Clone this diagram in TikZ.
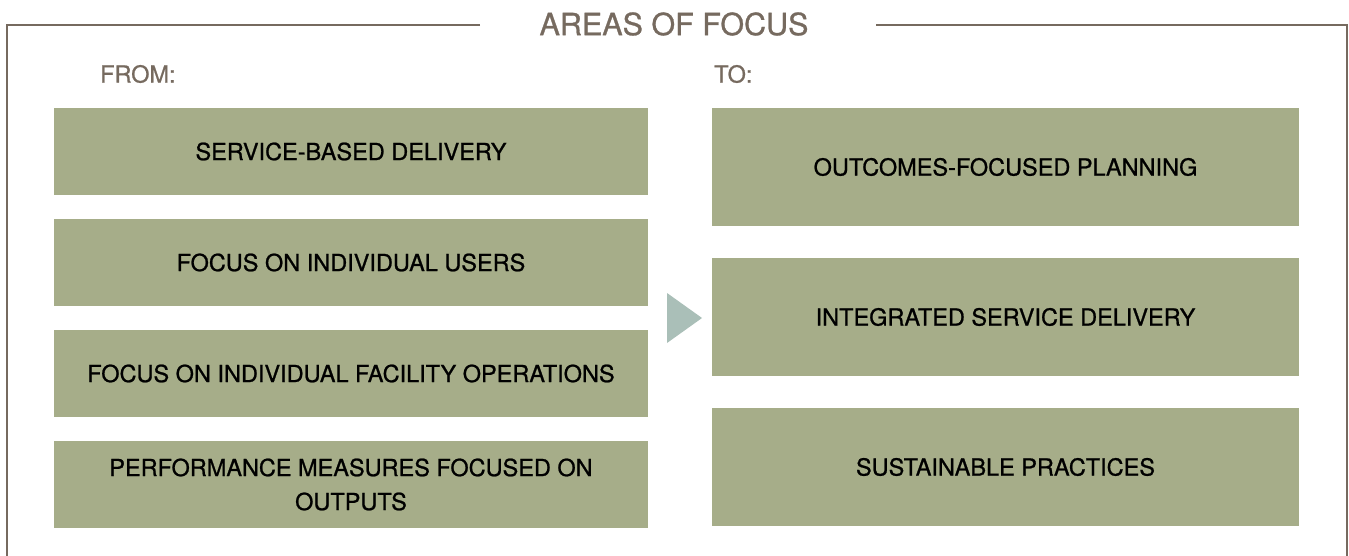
\documentclass[tikz,border=0pt]{standalone}
\usepackage{fontspec}
\setmainfont{TeX Gyre Heros}
\newfontfamily\medfont[FakeBold=0.9]{TeX Gyre Heros}
\definecolor{framebrown}{HTML}{766A5F}
\definecolor{boxgreen}{HTML}{A6AD89}
\definecolor{arrowteal}{HTML}{AABFB8}
\tikzset{
  focusbox/.style={fill=boxgreen,inner sep=0pt,align=center,
    font=\medfont\fontsize{23.5}{34}\selectfont},
  frombox/.style={focusbox,minimum width=594pt,minimum height=87pt},
  tobox/.style={focusbox,minimum width=587pt,minimum height=118pt},
  heading/.style={text=framebrown,inner sep=0pt,font=\medfont\fontsize{23.5}{28}\selectfont}
}
\begin{document}
\begin{tikzpicture}[x=1pt,y=-1pt]
        \useasboundingbox (0,0) rectangle (1349,556);

        \node[text=framebrown,inner sep=0pt,font=\medfont\fontsize{30.5}{34}\selectfont] (title) at (674,24) {AREAS OF FOCUS};
        \draw[framebrown,line width=2.2pt] (480,25) -- (7,25) -- (7,556);
        \draw[framebrown,line width=2.2pt] (876,25) -- (1347,25) -- (1347,556);

        \node[heading,anchor=west] (fromlabel) at (100,74) {FROM:};
        \node[heading,anchor=west] (tolabel) at (714,74) {TO:};

        \node[frombox] (from1) at (351,151.5) {SERVICE-BASED DELIVERY};
        \node[frombox] (from2) at (351,262.5) {FOCUS ON INDIVIDUAL USERS};
        \node[frombox] (from3) at (351,373.5) {FOCUS ON INDIVIDUAL FACILITY OPERATIONS};
        \node[frombox] (from4) at (351,484.5) {PERFORMANCE MEASURES FOCUSED ON\\OUTPUTS};

        \node[tobox] (to1) at (1005.5,167) {OUTCOMES-FOCUSED PLANNING};
        \node[tobox] (to2) at (1005.5,317) {INTEGRATED SERVICE DELIVERY};
        \node[tobox] (to3) at (1005.5,467) {SUSTAINABLE PRACTICES};

        \fill[arrowteal] (667,293) -- (702,318) -- (667,343) -- cycle;

\end{tikzpicture}
\end{document}
